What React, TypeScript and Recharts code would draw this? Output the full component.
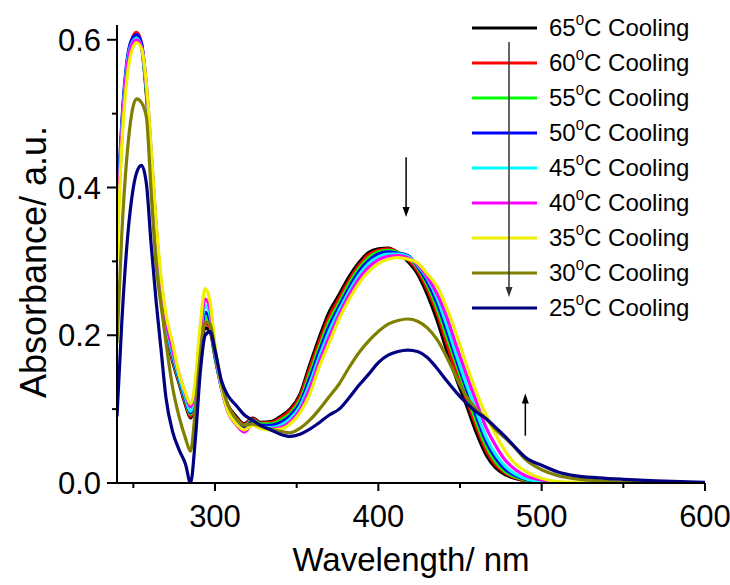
import { LineChart, Line, XAxis, YAxis, Legend, ReferenceLine } from 'recharts';

// wavelength grid (nm) shared by all spectra
const wavelengths = [
  240, 243, 246, 249, 252, 255, 258, 261, 264, 267,
  270, 274, 278, 282, 285, 288, 291, 294, 297, 300,
  304, 308, 313, 318, 323, 328, 334, 340, 346, 352,
  358, 364, 370, 376, 382, 388, 394, 400, 406, 412,
  418, 424, 430, 436, 442, 448, 454, 460, 466, 472,
  478, 484, 490, 500, 510, 520, 535, 550, 570, 600,
];

const abs65 = [
  0.34, 0.48, 0.56, 0.595, 0.605, 0.59, 0.525, 0.43, 0.33, 0.255,
  0.205, 0.165, 0.135, 0.105, 0.088, 0.115, 0.175, 0.21, 0.205, 0.17,
  0.13, 0.105, 0.09, 0.08, 0.088, 0.082, 0.083, 0.09, 0.1, 0.12,
  0.16, 0.198, 0.232, 0.255, 0.279, 0.298, 0.312, 0.317, 0.318, 0.312,
  0.3, 0.283, 0.255, 0.22, 0.178, 0.14, 0.105, 0.068, 0.038, 0.02,
  0.011, 0.006, 0.003, 0.001, 0, 0, 0, 0, 0, 0,
];
const abs60 = [
  0.34, 0.48, 0.565, 0.6, 0.61, 0.595, 0.53, 0.435, 0.335, 0.26,
  0.208, 0.167, 0.137, 0.107, 0.09, 0.117, 0.18, 0.216, 0.21, 0.172,
  0.13, 0.104, 0.088, 0.079, 0.087, 0.081, 0.082, 0.088, 0.098, 0.117,
  0.155, 0.192, 0.226, 0.25, 0.274, 0.294, 0.309, 0.315, 0.317, 0.312,
  0.303, 0.287, 0.262, 0.229, 0.188, 0.149, 0.113, 0.076, 0.044, 0.024,
  0.013, 0.007, 0.003, 0.001, 0, 0, 0, 0, 0, 0,
];
const abs55 = [
  0.34, 0.47, 0.56, 0.595, 0.605, 0.592, 0.53, 0.437, 0.337, 0.262,
  0.21, 0.17, 0.139, 0.11, 0.093, 0.12, 0.185, 0.224, 0.214, 0.172,
  0.128, 0.102, 0.086, 0.077, 0.085, 0.08, 0.08, 0.085, 0.094, 0.112,
  0.148, 0.185, 0.219, 0.244, 0.269, 0.29, 0.305, 0.313, 0.315, 0.312,
  0.306, 0.291, 0.268, 0.236, 0.197, 0.159, 0.121, 0.083, 0.05, 0.028,
  0.015, 0.008, 0.004, 0.001, 0.001, 0, 0, 0, 0, 0,
];
const abs50 = [
  0.36, 0.49, 0.57, 0.6, 0.607, 0.595, 0.535, 0.44, 0.34, 0.265,
  0.213, 0.172, 0.141, 0.112, 0.095, 0.124, 0.19, 0.231, 0.22, 0.175,
  0.128, 0.1, 0.084, 0.075, 0.083, 0.078, 0.078, 0.082, 0.091, 0.108,
  0.142, 0.179, 0.213, 0.239, 0.264, 0.286, 0.301, 0.31, 0.313, 0.311,
  0.308, 0.293, 0.272, 0.243, 0.205, 0.165, 0.127, 0.09, 0.056, 0.033,
  0.018, 0.01, 0.005, 0.002, 0.001, 0, 0, 0, 0, 0,
];
const abs45 = [
  0.35, 0.48, 0.565, 0.595, 0.602, 0.59, 0.535, 0.442, 0.343, 0.267,
  0.215, 0.175, 0.144, 0.115, 0.097, 0.128, 0.197, 0.24, 0.227, 0.178,
  0.127, 0.097, 0.08, 0.07, 0.08, 0.076, 0.075, 0.078, 0.087, 0.104,
  0.135, 0.172, 0.206, 0.234, 0.259, 0.281, 0.297, 0.306, 0.31, 0.31,
  0.307, 0.295, 0.277, 0.25, 0.213, 0.172, 0.133, 0.097, 0.062, 0.038,
  0.022, 0.012, 0.006, 0.002, 0.001, 0, 0, 0, 0, 0,
];
const abs40 = [
  0.34, 0.475, 0.56, 0.593, 0.6, 0.59, 0.538, 0.447, 0.347, 0.272,
  0.22, 0.18, 0.148, 0.12, 0.103, 0.133, 0.205, 0.249, 0.235, 0.182,
  0.128, 0.096, 0.079, 0.069, 0.079, 0.075, 0.073, 0.075, 0.083, 0.099,
  0.128, 0.165, 0.198, 0.228, 0.254, 0.276, 0.292, 0.302, 0.307, 0.308,
  0.305, 0.296, 0.279, 0.256, 0.224, 0.184, 0.146, 0.11, 0.075, 0.05,
  0.03, 0.018, 0.01, 0.004, 0.001, 0, 0, 0, 0, 0,
];
const abs35 = [
  0.3, 0.46, 0.545, 0.585, 0.596, 0.588, 0.54, 0.45, 0.352, 0.278,
  0.228, 0.19, 0.148, 0.122, 0.107, 0.14, 0.215, 0.263, 0.245, 0.187,
  0.13, 0.097, 0.08, 0.072, 0.078, 0.074, 0.072, 0.073, 0.08, 0.095,
  0.12, 0.158, 0.19, 0.222, 0.248, 0.27, 0.286, 0.297, 0.303, 0.305,
  0.303, 0.298, 0.283, 0.266, 0.236, 0.2, 0.16, 0.123, 0.092, 0.065,
  0.042, 0.026, 0.016, 0.006, 0.002, 0.001, 0, 0, 0, 0,
];
const abs30 = [
  0.19, 0.34, 0.44, 0.5, 0.52, 0.515, 0.495, 0.39, 0.295, 0.24,
  0.19, 0.13, 0.09, 0.06, 0.043, 0.1, 0.175, 0.218, 0.215, 0.18,
  0.135, 0.105, 0.087, 0.078, 0.08, 0.077, 0.073, 0.07, 0.068, 0.074,
  0.085, 0.1, 0.117, 0.134, 0.156, 0.176, 0.192, 0.205, 0.215, 0.22,
  0.222, 0.219, 0.21, 0.194, 0.17, 0.142, 0.117, 0.1, 0.087, 0.072,
  0.06, 0.047, 0.032, 0.018, 0.01, 0.006, 0.003, 0.001, 0, 0,
];
const abs25 = [
  0.09, 0.22, 0.32, 0.385, 0.42, 0.43, 0.405, 0.32, 0.245, 0.18,
  0.115, 0.07, 0.045, 0.025, 0, 0.06, 0.15, 0.2, 0.205, 0.18,
  0.138, 0.118, 0.105, 0.092, 0.085, 0.078, 0.072, 0.066, 0.063, 0.066,
  0.073, 0.082, 0.092, 0.1, 0.115, 0.132, 0.147, 0.163, 0.173, 0.178,
  0.18, 0.178, 0.17, 0.155, 0.138, 0.122, 0.108, 0.096, 0.087, 0.075,
  0.062, 0.048, 0.035, 0.024, 0.015, 0.01, 0.007, 0.005, 0.003, 0.001,
];

const temps = [65, 60, 55, 50, 45, 40, 35, 30, 25];
const keys = ['t65', 't60', 't55', 't50', 't45', 't40', 't35', 't30', 't25'];
const colors = ['#000000', '#ff0000', '#00ff00', '#0000ff', '#00ffff', '#ff00ff', '#eef000', '#808000', '#000080'];
const seriesValues = [abs65, abs60, abs55, abs50, abs45, abs40, abs35, abs30, abs25];

const xTicks = [250, 300, 350, 400, 450, 500, 550, 600];
const yTicks = [0, 0.1, 0.2, 0.3, 0.4, 0.5, 0.6];

const data = wavelengths.map((wl, i) => {
  const row: Record<string, number> = { wl };
  keys.forEach((k, j) => {
    row[k] = seriesValues[j][i];
  });
  return row;
});

const FONT = '"Liberation Sans", Arial, sans-serif';

const XTick = ({ x, y, payload }: any) => {
  const major = payload.value % 100 === 0;
  return (
    <g>
      <line x1={x} x2={x} y1={y} y2={y + (major ? 8 : 5)} stroke="#000" strokeWidth={2} />
      {major && (
        <text x={x} y={y + 44} textAnchor="middle" fontSize={31} fontFamily={FONT} fill="#000">
          {payload.value}
        </text>
      )}
    </g>
  );
};

const YTick = ({ x, y, payload }: any) => {
  const major = Math.round(payload.value * 10) % 2 === 0;
  return (
    <g>
      <line x1={x - (major ? 10 : 5)} x2={x} y1={y} y2={y} stroke="#000" strokeWidth={2} />
      {major && (
        <text x={x - 16} y={y + 11} textAnchor="end" fontSize={31} fontFamily={FONT} fill="#000">
          {payload.value.toFixed(1)}
        </text>
      )}
    </g>
  );
};

// arrow drawn from segment start to segment end (tip)
const Arrow = ({ x1, y1, x2, y2 }: any) => {
  const dir = y2 > y1 ? 1 : -1;
  return (
    <g>
      <line x1={x1} y1={y1} x2={x2} y2={y2 - dir * 6} stroke="#000" strokeWidth={1.5} />
      <polygon points={`${x2},${y2} ${x2 - 3.5},${y2 - dir * 10} ${x2 + 3.5},${y2 - dir * 10}`} fill="#000" />
    </g>
  );
};

const renderLegend = () => (
  <svg width={270} height={335} style={{ display: 'block' }}>
    {temps.map((t, i) => {
      const cy = 28 + i * 35;
      return (
        <g key={t}>
          <line x1={12} x2={77} y1={cy} y2={cy} stroke={colors[i]} strokeWidth={3} />
          <text x={89} y={cy + 8} fontSize={24} fontFamily={FONT} fill="#000">
            {t}
            <tspan fontSize={15} dy={-11}>0</tspan>
            <tspan dy={11}>C Cooling</tspan>
          </text>
        </g>
      );
    })}
    <line x1={49} x2={49} y1={42} y2={290} stroke="#333" strokeWidth={1.5} />
    <polygon points="49,297 45.5,287 52.5,287" fill="#333" />
  </svg>
);

export default function App() {
  return (
    <div style={{ position: 'absolute', left: 0, top: 0, background: '#fff' }}>
      <LineChart width={730} height={585} data={data} margin={{ top: 25, right: 25, bottom: 42, left: 27 }}>
        <XAxis
          dataKey="wl"
          type="number"
          domain={[240, 600]}
          ticks={xTicks}
          interval={0}
          tickSize={0}
          tickMargin={0}
          tickLine={false}
          tick={<XTick />}
          axisLine={{ stroke: '#000', strokeWidth: 2 }}
          height={60}
          allowDataOverflow
          label={{
            content: ({ viewBox }: any) => (
              <text
                x={viewBox.x + viewBox.width / 2}
                y={571}
                textAnchor="middle"
                fontSize={33}
                fontFamily={FONT}
                fill="#000"
              >
                Wavelength/ nm
              </text>
            ),
          }}
        />
        <YAxis
          type="number"
          domain={[0, 0.62]}
          ticks={yTicks}
          interval={0}
          tickSize={0}
          tickMargin={0}
          tickLine={false}
          tick={<YTick />}
          axisLine={{ stroke: '#000', strokeWidth: 2 }}
          width={90}
          allowDataOverflow
          label={{
            content: () => (
              <text
                transform="translate(46, 262) rotate(-90)"
                textAnchor="middle"
                fontSize={36}
                fontFamily={FONT}
                fill="#000"
              >
                Absorbance/ a.u.
              </text>
            ),
          }}
        />
        <Legend
          content={renderLegend}
          layout="vertical"
          align="center"
          verticalAlign="middle"
          wrapperStyle={{ position: 'absolute', left: 460, top: 0, width: 270, height: 335 }}
        />
        {keys.map((k, i) => (
          <Line
            key={k}
            dataKey={k}
            name={`${temps[i]}C Cooling`}
            type="monotone"
            stroke={colors[i]}
            strokeWidth={3.2}
            dot={false}
            activeDot={false}
            isAnimationActive={false}
          />
        ))}
        <ReferenceLine
          segment={[{ x: 417, y: 0.441 }, { x: 417, y: 0.36 }]}
          shape={<Arrow />}
        />
        <ReferenceLine
          segment={[{ x: 490, y: 0.064 }, { x: 490, y: 0.121 }]}
          shape={<Arrow />}
        />
      </LineChart>
    </div>
  );
}
